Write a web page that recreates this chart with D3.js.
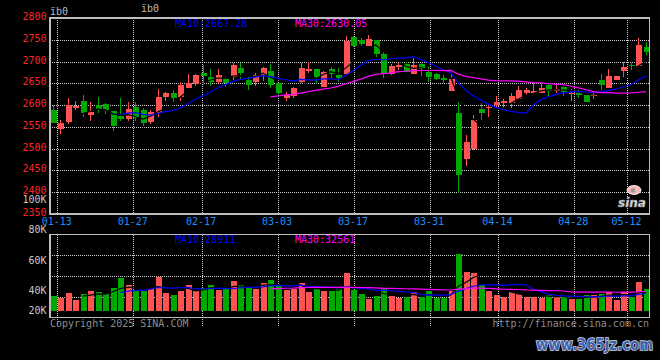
<!DOCTYPE html>
<html><head><meta charset="utf-8">
<script src="https://cdn.jsdelivr.net/npm/d3@7"></script>
<style>html,body{margin:0;padding:0;background:#000;}svg{display:block;}</style>
</head><body><svg id="c" width="660" height="360"></svg>
<script>
const dates = ["01-10","01-13","01-14","01-15","01-16","01-17","01-20","01-21","01-22","01-23","01-24","01-27",
"02-05","02-06","02-07","02-10","02-11","02-12","02-13","02-14","02-17","02-18","02-19","02-20","02-21",
"02-24","02-25","02-26","02-27","02-28","03-03","03-04","03-05","03-06","03-07","03-10","03-11","03-12","03-13","03-14",
"03-17","03-18","03-19","03-20","03-21","03-24","03-25","03-26","03-27","03-28","03-31","04-01","04-02","04-03",
"04-07","04-08","04-09","04-10","04-11","04-14","04-15","04-16","04-17","04-18","04-21","04-22","04-23","04-24","04-25",
"04-28","04-29","04-30","05-06","05-07","05-08","05-09","05-12","05-13","05-14","05-15"];
const opens = [2588.8,2546,2562,2593,2609.5,2577.3,2600.3,2603.4,2586.5,2575.8,2567.4,2596.5,
2588.8,2561.3,2582.7,2619.4,2628.6,2619.4,2638.6,2648.5,2673,2664.5,2653.8,2659.2,2664.5,
2685.2,2657.6,2652.3,2667.6,2678.3,2650,2617.1,2620.9,2652.3,2679,2683.7,2642.4,2683.7,2669.1,2670.6,
2755.6,2749.5,2736.5,2749.5,2717.3,2670.6,2687.5,2693.6,2671.4,2694.4,2676.8,2671.4,2663,2633.2,
2582.7,2476.3,2499.2,2591,2592.6,2600.2,2605.6,2605.6,2614,2627,2628.6,2628.6,2646.2,2633.2,2642.4,
2625.5,2628.6,2623.2,2620.9,2657.6,2640.1,2657.6,2679.1,2692.1,2690.5,2733.4];
const highs = [2600,2566,2617,2609,2623,2606,2618.7,2605.7,2587,2617,2608,2606,
2594,2589,2637.8,2630,2634.7,2653,2671.5,2671,2693,2683,2683,2665.3,2697.4,
2697.4,2665.3,2673,2688.3,2694.4,2650.5,2630.9,2642.3,2697.4,2699.7,2684,2677.5,2688.3,2686,2758.6,
2758.6,2753,2761,2749.8,2722.7,2694.4,2696,2698,2709,2696,2687,2673,2669.1,2673,
2606.4,2531.4,2577.3,2604,2602.6,2621.7,2614,2627,2643.9,2640,2653.8,2647.7,2647.7,2647.7,2643.9,
2637,2634.7,2623.5,2632.4,2670.6,2682.9,2667,2699.7,2695.9,2754.8,2744];
const lows = [2558,2534,2556,2588,2573.5,2564,2583,2580.4,2541.4,2564.3,2564.3,2564,
2552,2556,2573.5,2610,2608,2610,2638.6,2642.4,2646,2644,2650,2641.6,2657.6,
2660,2634.7,2643.9,2655.3,2640.1,2619.4,2609.4,2617.1,2650,2673,2647.7,2642,2661.5,2653.8,2669,
2734,2736.5,2735,2711,2663,2669,2680.6,2676,2671,2667.6,2652.3,2657.6,2650,2633,
2397.5,2461,2497,2565.8,2573.5,2592.6,2594.1,2592.6,2611.7,2621.7,2627,2627,2621.7,2627,2621.7,
2609.4,2617.1,2607.9,2614,2634.7,2640.1,2657.6,2665.3,2680.6,2688.3,2715];
const closes = [2559.7,2560,2600.3,2599,2582.7,2585,2591,2588.8,2552,2567.4,2591,2569.7,
2559.7,2583.5,2618.7,2628.6,2617,2645.4,2651.6,2670,2667,2653.8,2669,2650,2692.1,
2673,2646.2,2669.1,2686,2646.2,2627,2623.2,2640,2686,2683.7,2665.3,2676.8,2671.4,2663,2748,
2735.7,2739.5,2751.8,2717.3,2671.4,2689.8,2692,2676,2692,2682.1,2665.3,2660,2656.9,2659.2,
2439.6,2516.1,2565.8,2581.9,2596.4,2607.9,2610.2,2621.7,2634.7,2634.7,2632.4,2640.1,2632.4,2637,2630.9,
2628.6,2623.2,2607.9,2625.5,2646.2,2666.8,2666.8,2688.3,2689.8,2738,2722.7];
const volumes = [24800,21500,29900,18100,28200,33800,31600,28200,38400,55300,43400,35000,
32800,36200,57000,29900,26500,33300,43400,33800,38400,43400,35500,36200,50200,
43400,38400,37200,46800,51900,45100,35500,36200,46800,31600,36700,33300,33800,36200,63700,
35500,28200,20300,24800,36200,25400,22000,23200,31600,23200,33300,22000,22000,33300,
95800,65400,63700,43400,33300,26500,23200,31600,28200,23200,23200,22000,26500,23200,23200,
20300,19800,26500,26500,28200,31600,18100,31600,23200,48500,36700];
const priceTicks = [2350,2400,2450,2500,2550,2600,2650,2700,2750,2800];
const volTicks = [20000,40000,60000,80000,100000];
const dateTicks = ["01-13","01-27","02-17","03-03","03-17","03-31","04-14","04-28","05-12"];
const priceMALabels = [["MA10:2667.28","#0000ff"],["MA30:2630.05","#ff00ff"]];
const volMALabels = [["MA10:28911","#0000ff"],["MA30:32561","#ff00ff"]];

const RED="#ff5252", GREEN="#00a800", GRID="#cfcfcf", FONT="'DejaVu Sans Mono', monospace";
const svg = d3.select("#c");
svg.append("rect").attr("width",660).attr("height",360).attr("fill","#000");

const L=50, R=649.5, PT=18, PB=214, VT=234.5, VB=317.5;
const x = d3.scaleBand().domain(dates).range([48.95, 48.95+80*7.51]).paddingInner(0.2).paddingOuter(0.1);
const xc = d => x(d) + x.bandwidth()/2;
const xg = d3.scaleLinear().domain([0, dates.length-1]).range([49.7, 649.8]);
const y = d3.scaleLinear().domain([2350,2800]).range([PB,PT]);
const vy = d3.scaleLinear().domain([0,100000]).range([310.7,251.5]);
const vLab = d3.scaleLinear().domain([0,100000]).range([350.7,199.5]);
const vGrid = d3.scaleLinear().domain([0,4]).range([VB,VT]);

const g = svg.append("g").attr("shape-rendering","crispEdges");
const gridG = g.append("g").attr("stroke",GRID).attr("stroke-dasharray","1,1").attr("stroke-width",1);
priceTicks.slice(1,-1).forEach(t=>gridG.append("line").attr("x1",L).attr("x2",R).attr("y1",Math.round(y(t))+0.5).attr("y2",Math.round(y(t))+0.5));
[1,2,3].forEach(k=>gridG.append("line").attr("x1",L).attr("x2",R).attr("y1",Math.round(vGrid(k))+0.5).attr("y2",Math.round(vGrid(k))+0.5));
dateTicks.forEach(dt=>{
  const gx = Math.round(xg(dates.indexOf(dt)))+0.5;
  gridG.append("line").attr("x1",gx).attr("x2",gx).attr("y1",PT).attr("y2",PB);
  gridG.append("line").attr("x1",gx).attr("x2",gx).attr("y1",VT).attr("y2",VB+8);
});

const cG = g.append("g");
dates.forEach((d,i)=>{
  const up = closes[i] >= opens[i];
  const col = up ? RED : GREEN;
  const cx = Math.round(xc(d))+0.5;
  cG.append("line").attr("x1",cx).attr("x2",cx).attr("y1",y(highs[i])).attr("y2",y(lows[i])).attr("stroke",col);
  const top = y(Math.max(opens[i],closes[i])), bot = y(Math.min(opens[i],closes[i]));
  cG.append("rect").attr("x",Math.round(xc(d))-2.5).attr("width",6).attr("y",top).attr("height",Math.max(1,bot-top)).attr("fill",col);
  cG.append("rect").attr("x",Math.round(xc(d))-2.5).attr("width",6).attr("y",vy(volumes[i])).attr("height",vy(0)-vy(volumes[i])).attr("fill",col);
});

function ma(arr,n){return arr.map((v,i)=> i<n-1 ? null : d3.mean(arr.slice(i-n+1,i+1)));}
function drawMA(vals, scale, color){
  const line = d3.line().defined(v=>v!==null).x((v,i)=>xc(dates[i])).y(v=>scale(v));
  svg.append("path").datum(vals).attr("d",line).attr("fill","none").attr("stroke",color).attr("stroke-width",1.2);
}
drawMA(ma(closes,5), y, "#000");
drawMA(ma(closes,10), y, "#0000ff");
drawMA(ma(closes,30), y, "#ff00ff");
drawMA(ma(volumes,5), vy, "#000");
drawMA(ma(volumes,10), vy, "#0000ff");
drawMA(ma(volumes,30), vy, "#ff00ff");

const bG = svg.append("g").attr("fill","none").attr("stroke","#bdbdbd").attr("stroke-width",1.3).attr("shape-rendering","crispEdges");
bG.append("rect").attr("x",L).attr("y",PT).attr("width",R-L).attr("height",PB-PT);
bG.append("rect").attr("x",L).attr("y",VT).attr("width",R-L).attr("height",VB-VT);

const T = svg.append("g").attr("font-family",FONT).attr("font-size",10);
priceTicks.forEach(t=>T.append("text").attr("x",46.5).attr("y",y(t)+2).attr("text-anchor","end").attr("fill","#ff2626").text(t));
volTicks.forEach(v=>T.append("text").attr("x",46.5).attr("y",Math.min(vLab(v),310)+3.6).attr("text-anchor","end").attr("fill","#c8c8c8").text(v/1000+"K"));
dateTicks.forEach(dt=>T.append("text").attr("x",xg(dates.indexOf(dt))-0.5).attr("y",224.6).attr("text-anchor","middle").attr("fill","#1e8fff").text(dt));
priceMALabels.forEach((l,i)=>T.append("text").attr("x",175+i*120).attr("y",27.2).attr("fill",l[1]).text(l[0]));
volMALabels.forEach((l,i)=>T.append("text").attr("x",175+i*120).attr("y",242.6).attr("fill",l[1]).text(l[0]));
T.append("text").attr("x",50).attr("y",15).attr("fill","#bcbcbc").text("ïb0");
T.append("text").attr("x",141).attr("y",12).attr("fill","#bcbcbc").text("ïb0");
T.append("text").attr("x",50).attr("y",327).attr("fill","#8c8c8c").text("Copyright 2025 SINA.COM");
T.append("text").attr("x",649).attr("y",327).attr("text-anchor","end").attr("fill","#8c8c8c").text("http://finance.sina.com.cn");

const lg = svg.append("g");
lg.append("ellipse").attr("cx",634).attr("cy",190).attr("rx",7).attr("ry",4.5).attr("fill","#f6b8b8").attr("stroke","#fff").attr("stroke-width",0.8);
lg.append("circle").attr("cx",633).attr("cy",190.5).attr("r",2.2).attr("fill","#999");
lg.append("text").attr("x",618).attr("y",207).attr("font-family","'DejaVu Sans'").attr("font-style","italic").attr("font-weight","bold").attr("font-size",12).attr("fill","#e6e6e6").attr("stroke","#8a8a8a").attr("stroke-width",0.6).text("sina");

svg.append("text").attr("x",536).attr("y",350).attr("font-family","'DejaVu Sans'").attr("font-weight","bold").attr("font-size",15)
  .attr("textLength",117).attr("lengthAdjust","spacingAndGlyphs")
  .attr("fill","#3f62a8").attr("stroke","#c9d3ea").attr("stroke-width",1.6).attr("paint-order","stroke").text("www.365jz.com");
</script></body></html>
